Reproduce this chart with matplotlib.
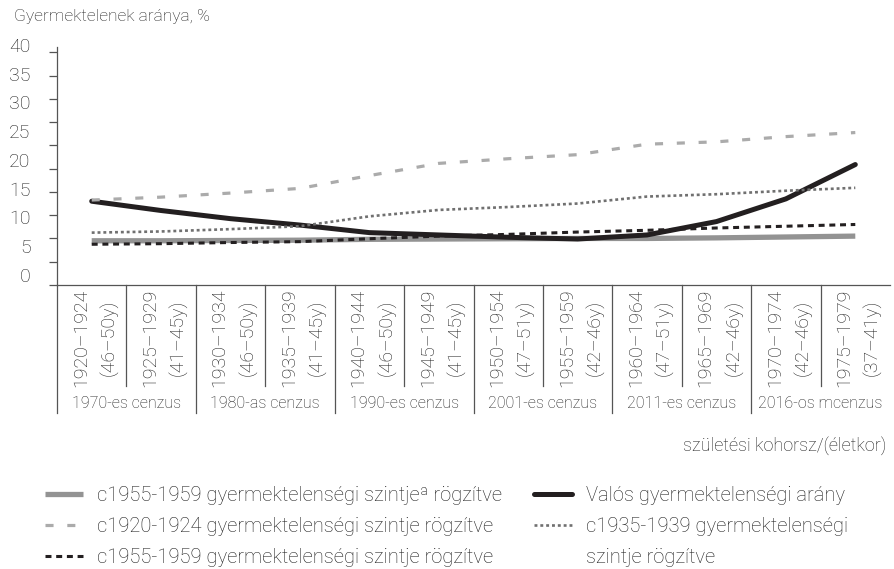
import numpy as np
import matplotlib.pyplot as plt
from matplotlib.lines import Line2D

plt.rcParams["font.family"] = ["Roboto", "DejaVu Sans"]
plt.rcParams["font.weight"] = "light"

cohorts = ["1920–1924\n(46–50y)", "1925–1929\n(41–45y)", "1930–1934\n(46–50y)",
           "1935–1939\n(41–45y)", "1940–1944\n(46–50y)", "1945–1949\n(41–45y)",
           "1950–1954\n(47–51y)", "1955–1959\n(42–46y)", "1960–1964\n(47–51y)",
           "1965–1969\n(42–46y)", "1970–1974\n(42–46y)", "1975–1979\n(37–41y)"]
censuses = ["1970-es cenzus", "1980-as cenzus", "1990-es cenzus",
            "2001-es cenzus", "2011-es cenzus", "2016-os mcenzus"]

actual = [14.4, 12.8, 11.4, 10.3, 9.0, 8.6, 8.2, 7.9, 8.6, 10.9, 14.8, 20.7]
fixed_1955a = [7.6, 7.6, 7.65, 7.7, 7.85, 7.9, 7.95, 8.0, 8.0, 8.1, 8.25, 8.4]
fixed_1920 = [14.6, 15.1, 15.8, 16.6, 18.8, 20.9, 21.7, 22.4, 24.2, 24.6, 25.5, 26.2]
fixed_1935 = [9.0, 9.2, 9.6, 10.1, 11.8, 12.9, 13.4, 14.0, 15.2, 15.6, 16.2, 16.7]
fixed_1955 = [7.0, 7.1, 7.3, 7.45, 7.95, 8.4, 8.7, 9.1, 9.4, 9.8, 10.1, 10.4]

ytick_labels = ["0", "5", "10", "15", "20", "25", "30", "35", "40"]

lab_1955a = "c1955-1959 gyermektelenségi szintjeª rögzítve"
lab_1920 = "c1920-1924 gyermektelenségi szintje rögzítve"
lab_1955 = "c1955-1959 gyermektelenségi szintje rögzítve"
lab_actual = "Valós gyermektelenségi arány"
lab_1935 = "c1935-1939 gyermektelenségi"
lab_1935b = "szintje rögzítve"

BLACK = "#231f20"
AXC = "#555555"
TXT = "#1e1e1e"

fig = plt.figure(figsize=(8.94, 5.69), dpi=100)
ax = fig.add_axes([57 / 894, 1 - 285 / 569, 833 / 894, 238 / 569])

x = np.arange(len(cohorts))

l_gs, = ax.plot(x, fixed_1955a, color="#939393", lw=3.8, solid_capstyle="butt", zorder=2)
l_bk, = ax.plot(x, actual, color=BLACK, lw=3.6, solid_capstyle="round", zorder=3)
l_bd, = ax.plot(x, fixed_1955, color=BLACK, lw=2.2, ls=(0, (4.3 / 2.2, 3.4 / 2.2)), zorder=4)
l_dt, = ax.plot(x, fixed_1935, color="#707070", lw=1.9, ls=(0, (2.1 / 1.9, 2.1 / 1.9)), zorder=4)
l_gd, = ax.plot(x, fixed_1920, color="#ababab", lw=2.3, ls=(0, (5.8 / 2.3, 9.9 / 2.3)), zorder=5)

ax.set_xlim(-0.5, len(cohorts) - 0.5)
ax.set_ylim(0, 40)

for s in ["top", "right"]:
    ax.spines[s].set_visible(False)
for s in ["left", "bottom"]:
    ax.spines[s].set_color(AXC)
    ax.spines[s].set_linewidth(0.9)

# ticks every 4, labels every 5 (as in the source chart, labels don't sit on ticks)
ax.set_yticks(np.arange(0, 41, 4))
ax.set_yticklabels([])
ax.set_yticks(np.linspace(1.4, 40.9, len(ytick_labels)), minor=True)
ax.set_yticklabels(ytick_labels, minor=True, fontsize=14, color=TXT, va="center")
ax.tick_params(axis="y", which="major", length=5.8, width=0.9, color=AXC)
ax.tick_params(axis="y", which="minor", length=0, pad=19)
ax.set_xticks([])

# category table under the axis
trans = ax.get_xaxis_transform()
for k in range(len(cohorts)):
    bottom = -0.538 if k % 2 == 0 else -0.424
    ax.plot([k - 0.5, k - 0.5], [0, bottom], transform=trans, color=AXC,
            lw=0.9, clip_on=False)
for i, lab in enumerate(cohorts):
    ax.text(i + 0.05, -0.223, lab, transform=trans, rotation=90, ha="center",
            va="center", multialignment="center", fontsize=14, color=TXT,
            linespacing=1.65)
for j, lab in enumerate(censuses):
    ax.text(2 * j + 0.5, -0.496, lab, transform=trans, ha="center", va="center",
            fontsize=11.5, color=TXT)

fig.text(14 / 894, 1 - 16 / 569, "Gyermektelenek aránya, %", ha="left", va="center",
         fontsize=12.5, color=TXT)
fig.text(886 / 894, 1 - 446 / 569, "születési kohorsz/(életkor)", ha="right", va="center",
         fontsize=13, color=TXT)

blank = Line2D([], [], color="none")
handles = [l_gs, l_gd, l_bd, l_bk, l_dt, blank]
labels = [lab_1955a, lab_1920, lab_1955, lab_actual, lab_1935, lab_1935b]
fig.legend(handles, labels, ncol=2, loc="upper left",
           bbox_to_anchor=(45 / 894, 1 - 486 / 569), frameon=False,
           fontsize=14.5, labelcolor=TXT, handlelength=1.9,
           handletextpad=0.7, columnspacing=1.55, labelspacing=0.6,
           borderpad=0, borderaxespad=0)

fig.savefig("out.png", dpi=100)
